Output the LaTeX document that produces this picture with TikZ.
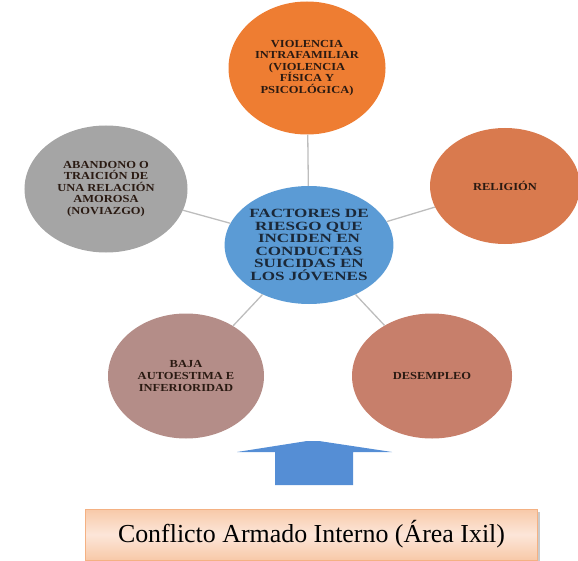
\documentclass[tikz,border=0pt]{standalone}
\usepackage{fontspec}
\setmainfont{Liberation Serif}
\newfontfamily\widefont[FakeStretch=1.16]{Liberation Serif}
\newfontfamily\widerfont[FakeStretch=1.36]{Liberation Serif}
\usetikzlibrary{shapes.geometric,shadows}
\definecolor{cTop}{HTML}{EE7D32}
\definecolor{cRight}{HTML}{D97A4E}
\definecolor{cLeft}{HTML}{A5A5A5}
\definecolor{cCenter}{HTML}{5B9BD5}
\definecolor{cBL}{HTML}{B48D88}
\definecolor{cBR}{HTML}{C77F6B}
\definecolor{cArrow}{HTML}{558ED5}
\definecolor{cLine}{HTML}{BDBDBD}
\definecolor{cBoxEdge}{HTML}{F4B183}
\definecolor{cBoxOut}{HTML}{F8C9A8}
\definecolor{cBoxIn}{HTML}{FCE6D9}
\definecolor{cTxt}{HTML}{2A1A12}
\definecolor{cTxtC}{HTML}{1B2838}
\begin{document}
\begin{tikzpicture}[x=1bp,y=-1bp,
  bubble/.style={ellipse,inner sep=0pt,align=center,text=cTxt,
    font=\widefont\bfseries\fontsize{10.8}{11.6}\selectfont},
  hub/.style={ellipse,inner sep=0pt,align=center,text=cTxtC,fill=cCenter,
    font=\widerfont\bfseries\fontsize{12.6}{12.6}\selectfont},
  conn/.style={draw=cLine,line width=1.3bp},
  banner/.style={draw=cBoxEdge,line width=1bp,top color=cBoxOut,bottom color=cBoxOut,middle color=cBoxIn,
    minimum width=451bp,minimum height=51bp,inner sep=0pt,
    font=\fontsize{26}{30}\selectfont,
    drop shadow={shadow xshift=3bp,shadow yshift=-3bp,fill=black!35,opacity=0.6}}
]
\useasboundingbox (0,0) rectangle (578,561);

\node[hub,minimum width=162bp,minimum height=118bp] (hub) at (309,245)
  {FACTORES DE\\RIESGO QUE\\INCIDEN EN\\CONDUCTAS\\SUICIDAS EN\\LOS JÓVENES};

\node[bubble,fill=cTop,minimum width=157bp,minimum height=133bp] (top) at (307,68)
  {VIOLENCIA\\INTRAFAMILIAR\\(VIOLENCIA\\FÍSICA Y\\PSICOLÓGICA)};
\node[bubble,fill=cRight,minimum width=150bp,minimum height=116bp] (right) at (505,186)
  {RELIGIÓN};
\node[bubble,fill=cLeft,minimum width=163bp,minimum height=127bp] (left) at (106,189)
  {ABANDONO O\\TRAICIÓN DE\\UNA RELACIÓN\\AMOROSA\\(NOVIAZGO)};
\node[bubble,fill=cBL,minimum width=156bp,minimum height=125bp] (bl) at (186,376)
  {BAJA\\AUTOESTIMA E\\INFERIORIDAD};
\node[bubble,fill=cBR,minimum width=160bp,minimum height=125bp] (br) at (432,376)
  {DESEMPLEO};

\draw[conn] (hub) -- (top);
\draw[conn] (hub) -- (right);
\draw[conn] (hub) -- (left);
\draw[conn] (hub) -- (bl);
\draw[conn] (hub) -- (br);

\node[banner] (box) at (311.5,534.5) {Conflicto Armado Interno (Área Ixil)};

\fill[cArrow] (275,485) -- (275,452) -- (237,452) -- (307,441) -- (319,441)
  -- (392,452) -- (353,452) -- (353,485) -- cycle;
\end{tikzpicture}
\end{document}
